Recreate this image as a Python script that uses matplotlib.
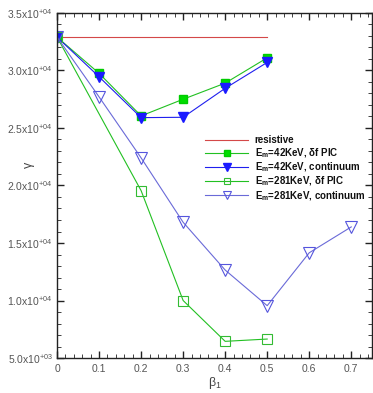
import matplotlib
matplotlib.use("Agg")
import matplotlib.pyplot as plt
from matplotlib.ticker import FixedLocator, MultipleLocator, FuncFormatter

plt.rcParams['font.family'] = ['Liberation Sans', 'DejaVu Sans']
plt.rcParams['mathtext.fontset'] = 'custom'
plt.rcParams['mathtext.rm'] = 'Liberation Sans'
plt.rcParams['mathtext.it'] = 'Liberation Sans:italic'
plt.rcParams['mathtext.bf'] = 'Liberation Sans:bold'

beta = [0.0, 0.1, 0.2, 0.3, 0.4, 0.5]
beta_long = [0.0, 0.1, 0.2, 0.3, 0.4, 0.5, 0.6, 0.7]
resistive_x = [0.0, 0.5]
resistive_y = [32900, 32900]
pic_42 = [32900, 29750, 26050, 27500, 28900, 31100]
cont_42 = [32900, 29450, 25900, 25930, 28450, 30700]
pic_281_x = [0.0, 0.2, 0.3, 0.4, 0.5]
pic_281 = [32900, 19550, 10000, 6450, 6650]
cont_281 = [32900, 27700, 22400, 16800, 12650, 9550, 14150, 16400]

labels = ["resistive",
          r"E$_\mathbf{m}$=42KeV, δf PIC",
          r"E$_\mathbf{m}$=42KeV, continuum",
          r"E$_\mathbf{m}$=281KeV, δf PIC",
          r"E$_\mathbf{m}$=281KeV, continuum"]

fig = plt.figure(figsize=(3.73, 3.93), dpi=100)
ax = fig.add_axes([0.153, 0.089, 0.845, 0.878])

red = '#d44848'
green = '#22c022'
blue = '#1f1fee'
lblue = '#6a6ad8'

ax.plot(resistive_x, resistive_y, color=red, lw=0.8, label=labels[0])
ax.plot(beta, pic_42, color=green, lw=0.8, marker='s', ms=6,
        mfc='#00dd00', mec='#00cc00', label=labels[1])
ax.plot(beta, cont_42, color=blue, lw=0.8, marker='v', ms=7.5,
        mfc='#1a1aff', mec='#1a1aff', label=labels[2])
ax.plot(pic_281_x, pic_281, color=green, lw=0.8, marker='s', ms=6.5,
        mfc='none', mec='#33bb33', mew=0.8, label=labels[3])
ax.plot(beta_long, cont_281, color=lblue, lw=0.8, marker='v', ms=8,
        mfc='none', mec='#5555dd', mew=0.8, label=labels[4])

ax.set_xlim(0, 0.75)
ax.set_ylim(5000, 35000)

ax.xaxis.set_major_locator(FixedLocator([0, 0.1, 0.2, 0.3, 0.4, 0.5, 0.6, 0.7]))
ax.xaxis.set_minor_locator(MultipleLocator(0.02))
ax.yaxis.set_major_locator(MultipleLocator(5000))
ax.yaxis.set_minor_locator(MultipleLocator(1000))


def xfmt(v, pos):
    if abs(v) < 1e-9:
        return "0"
    return f"{v:.1f}"


def yfmt(v, pos):
    if v <= 0:
        return ""
    e = 0
    m = v
    while m >= 10:
        m /= 10
        e += 1
    return rf"{m:.1f}x10$^{{{e:+03d}}}$"


ax.xaxis.set_major_formatter(FuncFormatter(xfmt))
ax.yaxis.set_major_formatter(FuncFormatter(yfmt))

ax.tick_params(which='both', direction='in', top=True, right=True,
               colors='#222222', labelcolor='#555555', labelsize=7.5)
ax.tick_params(which='major', length=5, width=1.0)
ax.tick_params(which='minor', length=3, width=0.6)
ax.tick_params(axis='x', pad=4)
ax.tick_params(axis='y', pad=3)
for s in ax.spines.values():
    s.set_linewidth(1.0)
    s.set_color('#222222')

ax.set_xlabel(r"β$_1$", fontsize=9, color='#444444', labelpad=1)
ax.set_ylabel("γ", fontsize=9, color='#444444')
ax.yaxis.set_label_coords(-0.07, 0.56)

leg = ax.legend(loc='upper left', bbox_to_anchor=(0.47, 0.645), frameon=False,
                fontsize=7, handlelength=4.4, handletextpad=0.7,
                labelspacing=0.07, borderaxespad=0, borderpad=0,
                markerscale=0.75)
for t in leg.get_texts():
    t.set_color('#111111')
    t.set_fontweight('bold')

fig.savefig("out.png", dpi=100)
